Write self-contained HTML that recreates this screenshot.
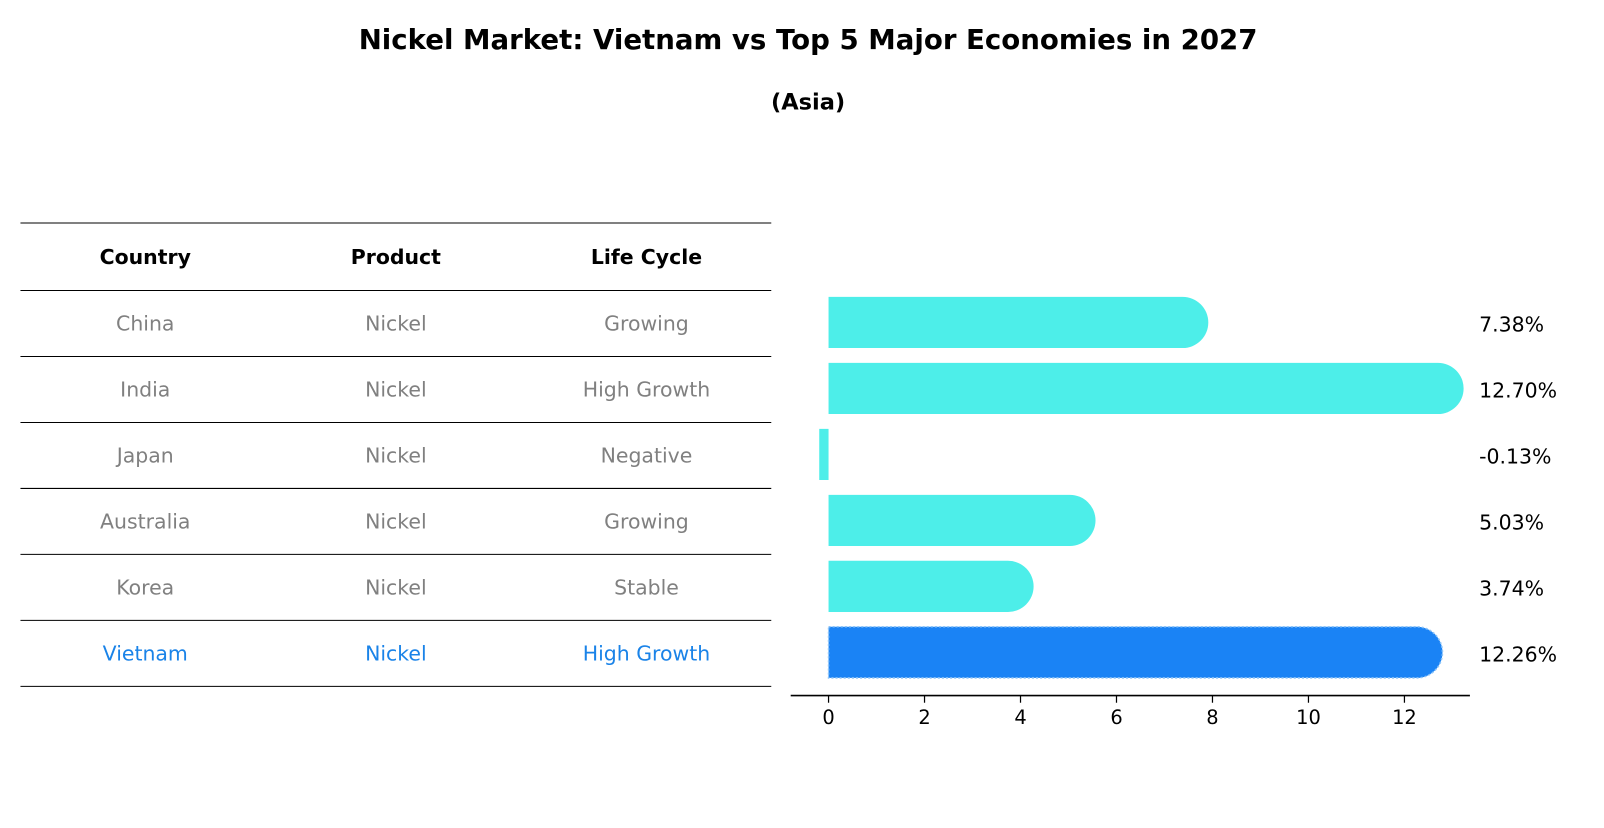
<!DOCTYPE html>
<html><head><meta charset="utf-8"><style>
body{margin:0;background:#fff;font-family:"Liberation Sans","DejaVu Sans",sans-serif;}
svg text{font-family:"DejaVu Sans","Liberation Sans",sans-serif;}
</style></head><body>
<svg id="c" width="1604" height="823" viewBox="0 0 1604 823">
<g transform="scale(1.0229)">
<text x="790" y="48" text-anchor="middle" font-size="27" font-weight="bold">Nickel Market: Vietnam vs Top 5 Major Economies in 2027</text>
<text x="790" y="107" text-anchor="middle" font-size="22" font-weight="bold">(Asia)</text>
<g id="table"></g>
<g id="bars"></g>
</g>
</svg>
<script>
const countries=["China","India","Japan","Australia","Korea","Vietnam"];
const products=["Nickel","Nickel","Nickel","Nickel","Nickel","Nickel"];
const lifeCycles=["Growing","High Growth","Negative","Growing","Stable","High Growth"];
const growth=[7.38,12.70,-0.13,5.03,3.74,12.26];
const xTicks=[0,2,4,6,8,10,12];
const NS="http://www.w3.org/2000/svg";
function mk(tag,attrs,parent){const e=document.createElementNS(NS,tag);for(const k in attrs)e.setAttribute(k,attrs[k]);parent.appendChild(e);return e;}
const table=document.getElementById('table');
const bars=document.getElementById('bars');
const rowH=64.5, top0=218, hdrH=66;
const colX=[142,387,632];
function rowCenter(i){return top0+hdrH+rowH*i+rowH/2;}
for(let i=0;i<=countries.length+1;i++){
  const y=i==0?top0:top0+hdrH+rowH*(i-1);
  const l=mk('line',{x1:20,x2:754,y1:y,y2:y,stroke:'#000','stroke-width':1},table);
  
  
}
["Country","Product","Life Cycle"].forEach((h,j)=>{
  const t=mk('text',{x:colX[j],y:top0+hdrH/2+7,'text-anchor':'middle','font-size':20,'font-weight':'bold'},table);
  t.textContent=h;
  
  
});
countries.forEach((c,i)=>{
  const col=c==="Vietnam"?"#1a83e8":"#808080";
  [c,products[i],lifeCycles[i]].forEach((v,j)=>{
    const t=mk('text',{x:colX[j],y:rowCenter(i)+7,'text-anchor':'middle','font-size':20,fill:col},table);
    t.textContent=v;
    
    
  });
});
const x0=810, pxPer=(1373-810)/12;
function xs(v){return x0+v*pxPer;}
const barH=50, r=25;
growth.forEach((g,i)=>{
  const cy=rowCenter(i)-1, fill=countries[i]==="Vietnam"?"#1a83f5":"#4deee9";
  const xa=Math.min(xs(0),xs(g)), w=Math.abs(xs(g)-xs(0));
  let d;
  if(g>0.5){const xe=xs(g);d=`M${xs(0)},${cy-barH/2} H${xe} A${r},${r} 0 0 1 ${xe},${cy+barH/2} H${xs(0)} Z`;}
  else{d=`M${xa-3},${cy-barH/2} h${Math.max(w,3)+3} v${barH} h${-(Math.max(w,3)+3)} Z`;}
  const p=mk('path',{d:d,fill:fill},bars);
  if(countries[i]==="Vietnam"){p.setAttribute('stroke','#8ec5f8');p.setAttribute('stroke-width',1.5);p.setAttribute('stroke-dasharray','2,2');}
  
  
  const t=mk('text',{x:1446,y:cy+9,'font-size':20},bars);
  t.textContent=g.toFixed(2)+'%';
  
  
});
const ax=mk('line',{x1:773,x2:1437,y1:680,y2:680,stroke:'#000','stroke-width':1.5},bars);


xTicks.forEach(v=>{
  const l=mk('line',{x1:xs(v),x2:xs(v),y1:680,y2:687,stroke:'#000','stroke-width':1.2},bars);
  
  
  const t=mk('text',{x:xs(v),y:708,'text-anchor':'middle','font-size':19},bars);
  t.textContent=v;
  
  
});
</script>
</body></html>
